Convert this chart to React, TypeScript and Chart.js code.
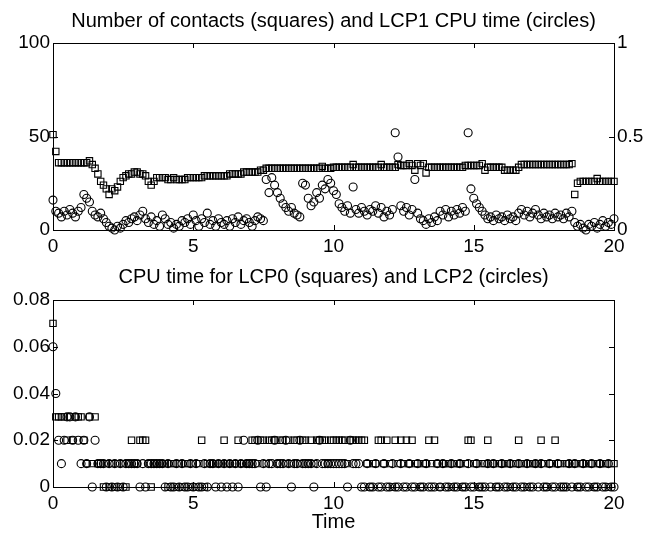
import React, { useEffect, useRef } from "react";
import { Chart, registerables } from "chart.js";

Chart.register(...registerables);

const TIME_STEP = 0.1;

// Number of contacts (squares, left axis)
const contacts = [
  51, 42, 36, 36, 36, 36, 36, 36, 36, 36,
  36, 36, 36, 37, 35, 33, 30, 26, 24, 22,
  19, 22, 21, 23, 26, 28, 29, 30, 30, 31,
  31, 30, 30, 29, 26, 24, 26, 28, 28, 28,
  28, 27, 27, 28, 27, 27, 27, 27, 28, 28,
  28, 28, 28, 28, 29, 29, 29, 29, 29, 29,
  29, 29, 29, 30, 30, 30, 30, 30, 31, 31,
  31, 31, 31, 31, 32, 32, 33, 33, 33, 33,
  33, 33, 33, 33, 33, 33, 33, 33, 33, 33,
  33, 33, 33, 33, 33, 33, 34, 33, 33, 33,
  33.5, 33.5, 33.5, 33.5, 33.5, 33.5, 33.5, 35, 33.5, 33.5,
  33.5, 33.5, 33.5, 33.5, 33.5, 33.5, 33.5, 35, 33.5, 33.5,
  33.5, 33.5, 33.5, 35, 34.5, 34.5, 34.5, 35.5, 34.5, 32,
  35.5, 34.5, 35.5, 30.5, 33.5, 33.5, 33.5, 33.5, 33.5, 33.5,
  33.5, 33.5, 33.5, 33.5, 33.5, 33.5, 33.5, 34.5, 34.5, 34.5,
  34.5, 34.5, 34.5, 35.5, 32, 33.5, 33.5, 33.5, 33.5, 33.5,
  33.5, 32, 32, 32, 32, 32, 33.5, 35, 35, 35,
  35, 35, 35, 35, 35, 35, 35, 35, 35, 35,
  35, 35, 35, 35, 35, 35.5, 19, 25, 26, 26,
  26, 26, 26, 26, 27.5, 26, 26, 26, 26, 26,
  26,
];

// LCP1 CPU time (circles, right axis)
const lcp1Cpu = [
  0.16, 0.10, 0.09, 0.07, 0.10, 0.08, 0.11, 0.09, 0.07, 0.10,
  0.12, 0.19, 0.17, 0.15, 0.10, 0.08, 0.07, 0.09, 0.06, 0.04,
  0.02, 0.01, 0.00, 0.02, 0.01, 0.03, 0.05, 0.04, 0.06, 0.07,
  0.05, 0.08, 0.10, 0.06, 0.04, 0.07, 0.03, 0.05, 0.02, 0.08,
  0.06, 0.03, 0.04, 0.01, 0.03, 0.02, 0.05, 0.04, 0.06, 0.03,
  0.08, 0.05, 0.02, 0.06, 0.04, 0.09, 0.03, 0.05, 0.02, 0.06,
  0.04, 0.03, 0.05, 0.02, 0.06, 0.04, 0.07, 0.03, 0.05, 0.06,
  0.04, 0.02, 0.05, 0.07, 0.06, 0.05, 0.27, 0.20, 0.28, 0.24,
  0.20, 0.17, 0.14, 0.12, 0.10, 0.12, 0.09, 0.08, 0.07, 0.25,
  0.24, 0.17, 0.13, 0.15, 0.20, 0.17, 0.24, 0.22, 0.27, 0.25,
  0.21, 0.19, 0.14, 0.12, 0.10, 0.13, 0.09, 0.23, 0.11, 0.09,
  0.12, 0.10, 0.08, 0.11, 0.10, 0.13, 0.09, 0.12, 0.07, 0.10,
  0.08, 0.11, 0.52, 0.39, 0.13, 0.10, 0.12, 0.08, 0.11, 0.27,
  0.09, 0.06, 0.05, 0.03, 0.06, 0.04, 0.07, 0.05, 0.10, 0.08,
  0.11, 0.07, 0.10, 0.08, 0.11, 0.09, 0.12, 0.10, 0.52, 0.22,
  0.17, 0.14, 0.12, 0.10, 0.08, 0.06, 0.07, 0.05, 0.08, 0.06,
  0.07, 0.05, 0.08, 0.06, 0.07, 0.05, 0.09, 0.11, 0.08, 0.10,
  0.07, 0.09, 0.11, 0.08, 0.06, 0.09, 0.07, 0.08, 0.06, 0.09,
  0.07, 0.08, 0.06, 0.09, 0.07, 0.10, 0.04, 0.02, 0.03, 0.01,
  0.00, 0.03, 0.02, 0.04, 0.01, 0.03, 0.05, 0.02, 0.04, 0.03,
  0.06,
];

// LCP0 CPU time (squares, lower plot)
const lcp0Cpu = [
  0.07, 0.03, 0.03, 0.03, 0.03, 0.02, 0.03, 0.02, 0.03, 0.03,
  0.03, 0.02, 0.01, 0.03, 0.01, 0.03, 0.01, 0.01, 0, 0.01,
  0, 0.01, 0, 0.01, 0, 0.01, 0, 0.01, 0.02, 0.01,
  0.01, 0.02, 0.02, 0.02, 0.01, 0, 0.01, 0.01, 0.01, 0.01,
  0.01, 0, 0.01, 0.01, 0, 0.01, 0, 0.01, 0.01, 0,
  0.01, 0, 0.01, 0.02, 0, 0.01, 0.01, 0.01, 0.01, 0.01,
  0.01, 0.02, 0.01, 0.01, 0.01, 0.01, 0.02, 0.01, 0.01, 0.01,
  0.01, 0.02, 0.02, 0.01, 0.02, 0.02, 0.01, 0.02, 0.02, 0.02,
  0.01, 0.02, 0.02, 0.01, 0.02, 0.01, 0.02, 0.02, 0.01, 0.02,
  0.02, 0.01, 0.02, 0.01, 0.02, 0.02, 0.02, 0.02, 0.01, 0.02,
  0.02, 0.02, 0.02, 0.02, 0.02, 0.01, 0.02, 0.02, 0.02, 0.02,
  0.02, 0.02, 0.01, 0, 0.01, 0.01, 0.02, 0.02, 0.01, 0.02,
  0.01, 0, 0.02, 0.01, 0.02, 0.01, 0.02, 0.01, 0.02, 0.01,
  0.01, 0, 0.01, 0.01, 0.02, 0.01, 0.02, 0.01, 0, 0.01,
  0.01, 0.01, 0, 0.01, 0.01, 0.01, 0, 0.01, 0.02, 0.02,
  0.01, 0.01, 0, 0.01, 0.01, 0.02, 0.01, 0.01, 0, 0.01,
  0.01, 0.01, 0.01, 0, 0.01, 0.01, 0.02, 0.01, 0.01, 0,
  0.01, 0.01, 0.01, 0.01, 0.02, 0.01, 0, 0.01, 0.01, 0.02,
  0.01, 0.01, 0, 0.01, 0.01, 0.01, 0.01, 0, 0.01, 0.01,
  0.01, 0.01, 0.01, 0, 0.01, 0.01, 0.01, 0.01, 0, 0.01,
  0.01,
];

// LCP2 CPU time (circles, lower plot)
const lcp2Cpu = [
  0.06, 0.04, 0.02, 0.01, 0.02, 0.03, 0.03, 0.02, 0.03, 0.02,
  0.01, 0.02, 0.01, 0.03, 0, 0.02, 0.01, 0.01, 0.01, 0,
  0.01, 0, 0.01, 0, 0.01, 0, 0.01, 0.01, 0.01, 0.01,
  0.01, 0, 0.01, 0, 0.01, 0.01, 0.01, 0.01, 0.01, 0.01,
  0, 0.01, 0, 0, 0.01, 0, 0.01, 0, 0, 0.01,
  0, 0.01, 0, 0, 0.01, 0, 0.01, 0.01, 0, 0.01,
  0, 0.01, 0, 0.01, 0, 0.01, 0, 0.01, 0.02, 0.01,
  0.01, 0.01, 0.01, 0.02, 0, 0.01, 0, 0.01, 0.01, 0.02,
  0.01, 0.01, 0.01, 0.02, 0.01, 0, 0.01, 0.01, 0.02, 0.01,
  0.01, 0.01, 0.01, 0, 0.01, 0.02, 0.01, 0.01, 0.01, 0.01,
  0.01, 0.01, 0.01, 0.01, 0.01, 0, 0.02, 0.01, 0.01, 0.01,
  0, 0, 0.01, 0, 0, 0.01, 0, 0, 0.01, 0,
  0, 0.01, 0, 0, 0.01, 0, 0, 0.01, 0, 0,
  0.01, 0, 0, 0.01, 0, 0, 0, 0.01, 0, 0.01,
  0, 0, 0.01, 0, 0, 0.01, 0, 0, 0.01, 0,
  0, 0.01, 0, 0, 0, 0.01, 0, 0.01, 0, 0,
  0.01, 0, 0, 0.01, 0, 0, 0.01, 0, 0, 0.01,
  0, 0, 0.01, 0, 0.01, 0, 0, 0.01, 0, 0,
  0.01, 0, 0, 0, 0.01, 0, 0.01, 0, 0, 0.01,
  0, 0, 0.01, 0, 0, 0.01, 0, 0, 0.01, 0,
  0,
];

const xTickValues = [0, 5, 10, 15, 20];
const contactsTickValues = [0, 50, 100];
const lcp1TickValues = [0, 0.5, 1];
const lowerTickValues = [0, 0.02, 0.04, 0.06, 0.08];

const topTitle = "Number of contacts (squares) and LCP1 CPU time (circles)";
const bottomTitle = "CPU time for LCP0 (squares) and LCP2 (circles)";
const xAxisTitle = "Time";

const FONT = "'Liberation Sans', Arial, Helvetica, sans-serif";
Chart.defaults.font.family = FONT;
Chart.defaults.color = "#000";

const times = contacts.map((_, i) => Math.round(i * TIME_STEP * 10) / 10);
const toPoints = (vals: number[]) => vals.map((v, i) => ({ x: times[i], y: v }));

const frameTicksPlugin = {
  id: "frameTicks",
  afterDraw(chart: any, _args: any, opts: any) {
    const { ctx, chartArea: a } = chart;
    const len = opts.length ?? 5;
    ctx.save();
    ctx.strokeStyle = "#000";
    ctx.lineWidth = 1;
    ctx.strokeRect(a.left + 0.5, a.top + 0.5, a.right - a.left, a.bottom - a.top);
    const sides = opts.sides || {};
    for (const id of Object.keys(sides)) {
      const scale = chart.scales[id];
      if (!scale) continue;
      for (const t of scale.ticks) {
        const p = Math.round(scale.getPixelForValue(t.value)) + 0.5;
        for (const s of sides[id]) {
          ctx.beginPath();
          if (s === "bottom") { ctx.moveTo(p, a.bottom); ctx.lineTo(p, a.bottom - len); }
          if (s === "top") { ctx.moveTo(p, a.top); ctx.lineTo(p, a.top + len); }
          if (s === "left") { ctx.moveTo(a.left, p); ctx.lineTo(a.left + len, p); }
          if (s === "right") { ctx.moveTo(a.right, p); ctx.lineTo(a.right - len, p); }
          ctx.stroke();
        }
      }
    }
    ctx.restore();
  },
};

function axis(min: number, max: number, tickVals: number[], extra: any) {
  return {
    type: "linear",
    min,
    max,
    afterBuildTicks: (s: any) => { s.ticks = tickVals.map((v) => ({ value: v })); },
    grid: { display: false, drawTicks: false },
    border: { display: false },
    ticks: {
      color: "#000",
      font: { size: 19, family: FONT },
      autoSkip: false,
      maxRotation: 0,
      callback: (v: any) => String(v),
      padding: extra.padding,
    },
    ...extra.rest,
  };
}

const squareStyle = {
  pointStyle: "rect",
  pointRadius: 4.5,
  pointHoverRadius: 4.5,
  pointBorderWidth: 1.1,
  pointBorderColor: "#000",
  pointBackgroundColor: "rgba(0,0,0,0)",
  showLine: false,
  clip: false,
};
const circleStyle = {
  pointStyle: "circle",
  pointRadius: 4,
  pointHoverRadius: 4,
  pointBorderWidth: 1.1,
  pointBorderColor: "#000",
  pointBackgroundColor: "rgba(0,0,0,0)",
  showLine: false,
  clip: false,
};

export default function App() {
  const topRef = useRef<HTMLCanvasElement>(null);
  const botRef = useRef<HTMLCanvasElement>(null);

  useEffect(() => {
    const top = new Chart(topRef.current as HTMLCanvasElement, {
      type: "scatter",
      data: {
        datasets: [
          { label: "contacts", data: toPoints(contacts), yAxisID: "y", ...squareStyle } as any,
          { label: "LCP1", data: toPoints(lcp1Cpu), yAxisID: "y2", ...circleStyle } as any,
        ],
      },
      options: {
        animation: false,
        responsive: false,
        devicePixelRatio: 1,
        events: [],
        layout: { padding: 0 },
        plugins: {
          legend: { display: false },
          tooltip: { enabled: false },
          title: {
            display: true,
            text: topTitle,
            fullSize: false,
            color: "#000",
            font: { size: 20, weight: "normal", family: FONT },
            padding: { top: 9, bottom: 10 },
          },
          frameTicks: { length: 5, sides: { x: ["bottom", "top"], y: ["left"], y2: ["right"] } },
        } as any,
        scales: {
          x: axis(0, 20, xTickValues, { padding: 5, rest: { afterFit: (s: any) => { s.height = 30; } } }),
          y: axis(0, 100, contactsTickValues, { padding: 3, rest: { position: "left", afterFit: (s: any) => { s.width = 53; } } }),
          y2: axis(0, 1, lcp1TickValues, { padding: 3, rest: { position: "right", afterFit: (s: any) => { s.width = 34; } } }),
        } as any,
      },
      plugins: [frameTicksPlugin],
    });

    const bot = new Chart(botRef.current as HTMLCanvasElement, {
      type: "scatter",
      data: {
        datasets: [
          { label: "LCP0", data: toPoints(lcp0Cpu), ...squareStyle } as any,
          { label: "LCP2", data: toPoints(lcp2Cpu), ...circleStyle } as any,
        ],
      },
      options: {
        animation: false,
        responsive: false,
        devicePixelRatio: 1,
        events: [],
        layout: { padding: { left: 0, right: 34, top: 0, bottom: 0 } },
        plugins: {
          legend: { display: false },
          tooltip: { enabled: false },
          title: {
            display: true,
            text: bottomTitle,
            fullSize: false,
            color: "#000",
            font: { size: 20, weight: "normal", family: FONT },
            padding: { top: 5, bottom: 11 },
          },
          frameTicks: { length: 5, sides: { x: ["bottom", "top"], y: ["left", "right"] } },
        } as any,
        scales: {
          x: axis(0, 20, xTickValues, {
            padding: 5,
            rest: {
              afterFit: (s: any) => { s.height = 51; },
              title: {
                display: true,
                text: xAxisTitle,
                color: "#000",
                font: { size: 20, family: FONT },
                padding: { top: 3.5, bottom: 3.5 },
              },
            },
          }),
          y: axis(0, 0.08, lowerTickValues, { padding: 3, rest: { position: "left", afterFit: (s: any) => { s.width = 53; } } }),
        } as any,
      },
      plugins: [frameTicksPlugin],
    });

    return () => {
      top.destroy();
      bot.destroy();
    };
  }, []);

  return (
    <div style={{ position: "absolute", left: 0, top: 0, width: 648, height: 538, background: "#fff" }}>
      <canvas ref={topRef} width={648} height={260} style={{ position: "absolute", left: 0, top: 0, width: 648, height: 260 }} />
      <canvas ref={botRef} width={648} height={278} style={{ position: "absolute", left: 0, top: 260, width: 648, height: 278 }} />
    </div>
  );
}
